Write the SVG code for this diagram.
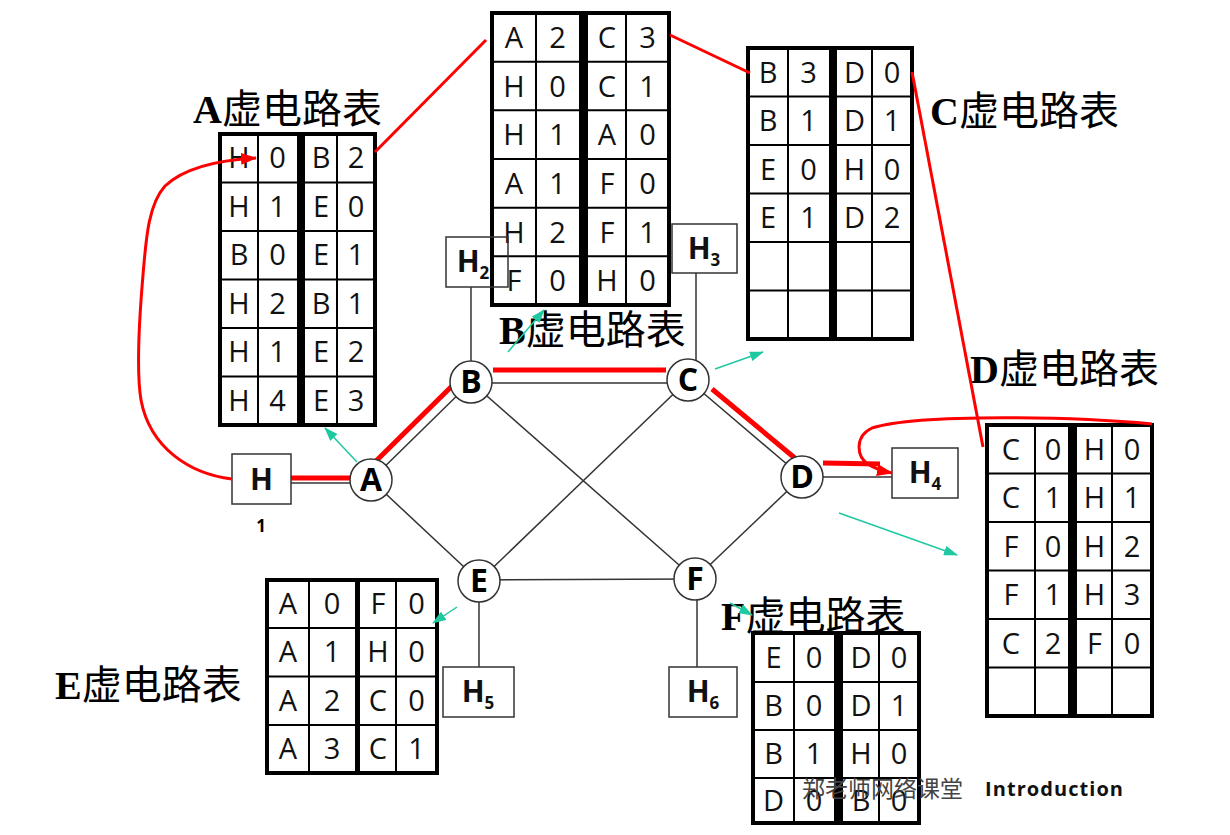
<svg xmlns="http://www.w3.org/2000/svg" width="1230" height="835" viewBox="0 0 1230 835">
<defs>
<marker id="ar" markerUnits="userSpaceOnUse" markerWidth="16" markerHeight="12" refX="15" refY="6" orient="auto"><path d="M0,0 L16,6 L0,12 Z" fill="#ff0000"/></marker>
<marker id="at" markerUnits="userSpaceOnUse" markerWidth="14" markerHeight="10" refX="13" refY="5" orient="auto"><path d="M0,0 L14,5 L0,10 Z" fill="#1ec8a0"/></marker>
<style>
.cell{font-family:"Open Sans",sans-serif;font-size:29px;fill:#111;text-anchor:middle}
.tb{fill:#fff;stroke:#000;stroke-width:4}
.ln{stroke:#000;stroke-width:2}
.bar{fill:#000}
.ttl{font-family:"Noto Sans CJK SC",sans-serif;font-size:40px;fill:#000}
.lat{font-family:"Liberation Serif",serif;font-weight:bold}
.g{stroke:#333;stroke-width:1.5;fill:none}
.red{stroke:#ff0000;stroke-width:5;fill:none}
.redt{stroke:#ff0000;stroke-width:3;fill:none}
.tea{stroke:#1ec8a0;stroke-width:1.5;fill:none}
.nd{fill:#fff;stroke:#333;stroke-width:1.5}
.nl{font-family:"Open Sans",sans-serif;font-weight:bold;font-size:32px;text-anchor:middle;fill:#000}
.hb{fill:#fff;stroke:#333;stroke-width:1.5}
.ht{font-family:"Open Sans",sans-serif;font-weight:bold;font-size:30px;text-anchor:middle;fill:#111}
.sub{font-size:17px}
</style>
</defs>
<rect width="1230" height="835" fill="#fff"/>

<g id="connectors">
<line class="g" x1="371" y1="480" x2="471" y2="382"/>
<line class="g" x1="471" y1="383" x2="688" y2="383"/>
<line class="g" x1="688" y1="380" x2="802" y2="477"/>
<line class="g" x1="371" y1="480" x2="479" y2="581"/>
<line class="g" x1="471" y1="382" x2="695" y2="579"/>
<line class="g" x1="688" y1="380" x2="479" y2="581"/>
<line class="g" x1="479" y1="580" x2="695" y2="579"/>
<line class="g" x1="802" y1="477" x2="695" y2="579"/>
<line class="g" x1="291" y1="483" x2="352" y2="483"/>
<line class="g" x1="823" y1="477" x2="892" y2="477"/>
<line class="g" x1="471" y1="287" x2="471" y2="362"/>
<line class="g" x1="696" y1="273" x2="696" y2="362"/>
<line class="g" x1="479" y1="602" x2="479" y2="667"/>
<line class="g" x1="697" y1="600" x2="697" y2="667"/>
<line class="red" x1="291" y1="478" x2="352" y2="478"/>
<line class="red" x1="376" y1="461" x2="452" y2="386"/>
<line class="red" x1="493" y1="370" x2="666" y2="370"/>
<line class="red" x1="712" y1="389" x2="796" y2="459"/>
<line class="red" x1="823" y1="463" x2="880" y2="464"/>
</g>

<g id="nodeA"><circle class="nd" cx="371" cy="480" r="21"/><text class="nl" x="371" y="491">A</text></g>
<g id="nodeB"><circle class="nd" cx="471" cy="382" r="21"/><text class="nl" x="471" y="393">B</text></g>
<g id="nodeC"><circle class="nd" cx="688" cy="380" r="21"/><text class="nl" x="688" y="391">C</text></g>
<g id="nodeD"><circle class="nd" cx="802" cy="477" r="21"/><text class="nl" x="802" y="488">D</text></g>
<g id="nodeE"><circle class="nd" cx="479" cy="581" r="21"/><text class="nl" x="479" y="592">E</text></g>
<g id="nodeF"><circle class="nd" cx="695" cy="579" r="21"/><text class="nl" x="695" y="590">F</text></g>

<g id="host1"><rect class="hb" x="232" y="454" width="59" height="50"/><text class="ht" x="261.5" y="490">H</text><text x="261" y="532" font-family="Open Sans,sans-serif" font-weight="bold" font-size="17" text-anchor="middle">1</text></g>
<g id="host3"><rect class="hb" x="672" y="224" width="65" height="49"/><text class="ht" x="704" y="259">H<tspan class="sub" dy="7">3</tspan></text></g>
<g id="host4"><rect class="hb" x="892" y="448" width="66" height="50"/><text class="ht" x="925" y="483">H<tspan class="sub" dy="7">4</tspan></text></g>
<g id="host5"><rect class="hb" x="443" y="667" width="71" height="50"/><text class="ht" x="478" y="702">H<tspan class="sub" dy="7">5</tspan></text></g>
<g id="host6"><rect class="hb" x="669" y="667" width="68" height="50"/><text class="ht" x="703" y="702">H<tspan class="sub" dy="7">6</tspan></text></g>

<g id="tableA">
<text class="ttl" x="193" y="123"><tspan class="lat">A</tspan>虚电路表</text>
<rect class="tb" x="220" y="134" width="155" height="291"/>
<path class="ln" d="M220,182.5H375M220,231H375M220,279.5H375M220,328H375M220,376.5H375M258,134V425M337,134V425"/>
<rect class="bar" x="297" y="134" width="8" height="291"/>
<g class="cell">
<text x="239" y="168">H</text><text x="277.5" y="168">0</text><text x="321" y="168">B</text><text x="356" y="168">2</text>
<text x="239" y="217">H</text><text x="277.5" y="217">1</text><text x="321" y="217">E</text><text x="356" y="217">0</text>
<text x="239" y="265">B</text><text x="277.5" y="265">0</text><text x="321" y="265">E</text><text x="356" y="265">1</text>
<text x="239" y="314">H</text><text x="277.5" y="314">2</text><text x="321" y="314">B</text><text x="356" y="314">1</text>
<text x="239" y="362">H</text><text x="277.5" y="362">1</text><text x="321" y="362">E</text><text x="356" y="362">2</text>
<text x="239" y="411">H</text><text x="277.5" y="411">4</text><text x="321" y="411">E</text><text x="356" y="411">3</text>
</g>
</g>

<g id="tableB">
<text class="ttl" x="499" y="344"><tspan class="lat">B</tspan>虚电路表</text>
<rect class="tb" x="492" y="13" width="177" height="292"/>
<path class="ln" d="M492,61.7H669M492,110.3H669M492,159H669M492,207.7H669M492,256.3H669M536,13V305M626,13V305"/>
<rect class="bar" x="579" y="13" width="9" height="292"/>
<g class="cell">
<text x="514" y="48">A</text><text x="557.5" y="48">2</text><text x="607" y="48">C</text><text x="647.5" y="48">3</text>
<text x="514" y="96.5">H</text><text x="557.5" y="96.5">0</text><text x="607" y="96.5">C</text><text x="647.5" y="96.5">1</text>
<text x="514" y="145">H</text><text x="557.5" y="145">1</text><text x="607" y="145">A</text><text x="647.5" y="145">0</text>
<text x="514" y="194">A</text><text x="557.5" y="194">1</text><text x="607" y="194">F</text><text x="647.5" y="194">0</text>
<text x="514" y="242.5">H</text><text x="557.5" y="242.5">2</text><text x="607" y="242.5">F</text><text x="647.5" y="242.5">1</text>
<text x="514" y="291">F</text><text x="557.5" y="291">0</text><text x="607" y="291">H</text><text x="647.5" y="291">0</text>
</g>
</g>

<g id="host2"><rect x="446" y="237" width="62" height="50" fill="none" stroke="#333" stroke-width="1.5"/><text class="ht" x="473" y="272">H<tspan class="sub" dy="7">2</tspan></text></g>

<g id="tableC">
<text class="ttl" x="930" y="125"><tspan class="lat">C</tspan>虚电路表</text>
<rect class="tb" x="748" y="48" width="164" height="291"/>
<path class="ln" d="M748,96.5H912M748,145H912M748,193.5H912M748,242H912M748,290.5H912M788,48V339M872,48V339"/>
<rect class="bar" x="829" y="48" width="8" height="291"/>
<g class="cell">
<text x="768" y="83">B</text><text x="808.5" y="83">3</text><text x="854.5" y="83">D</text><text x="892" y="83">0</text>
<text x="768" y="131">B</text><text x="808.5" y="131">1</text><text x="854.5" y="131">D</text><text x="892" y="131">1</text>
<text x="768" y="180">E</text><text x="808.5" y="180">0</text><text x="854.5" y="180">H</text><text x="892" y="180">0</text>
<text x="768" y="228">E</text><text x="808.5" y="228">1</text><text x="854.5" y="228">D</text><text x="892" y="228">2</text>
</g>
</g>

<g id="tableD">
<text class="ttl" x="970" y="383"><tspan class="lat">D</tspan>虚电路表</text>
<rect class="tb" x="987" y="425" width="165" height="291"/>
<path class="ln" d="M987,473.5H1152M987,522H1152M987,570.5H1152M987,619H1152M987,667.5H1152M1035,425V716M1112,425V716"/>
<rect class="bar" x="1068" y="425" width="9" height="291"/>
<g class="cell">
<text x="1011" y="460">C</text><text x="1053" y="460">0</text><text x="1094.5" y="460">H</text><text x="1132" y="460">0</text>
<text x="1011" y="508">C</text><text x="1053" y="508">1</text><text x="1094.5" y="508">H</text><text x="1132" y="508">1</text>
<text x="1011" y="557">F</text><text x="1053" y="557">0</text><text x="1094.5" y="557">H</text><text x="1132" y="557">2</text>
<text x="1011" y="605">F</text><text x="1053" y="605">1</text><text x="1094.5" y="605">H</text><text x="1132" y="605">3</text>
<text x="1011" y="654">C</text><text x="1053" y="654">2</text><text x="1094.5" y="654">F</text><text x="1132" y="654">0</text>
</g>
</g>

<g id="tableE">
<text class="ttl" x="55" y="699"><tspan class="lat">E</tspan>虚电路表</text>
<rect class="tb" x="267" y="580" width="170" height="193"/>
<path class="ln" d="M267,628H437M267,676.5H437M267,725H437M309,580V773M396,580V773"/>
<rect class="bar" x="355" y="580" width="5" height="193"/>
<g class="cell">
<text x="288" y="614">A</text><text x="332" y="614">0</text><text x="378" y="614">F</text><text x="416.5" y="614">0</text>
<text x="288" y="662">A</text><text x="332" y="662">1</text><text x="378" y="662">H</text><text x="416.5" y="662">0</text>
<text x="288" y="711">A</text><text x="332" y="711">2</text><text x="378" y="711">C</text><text x="416.5" y="711">0</text>
<text x="288" y="759">A</text><text x="332" y="759">3</text><text x="378" y="759">C</text><text x="416.5" y="759">1</text>
</g>
</g>

<g id="tableF">
<text class="ttl" x="721" y="630"><tspan class="lat">F</tspan>虚电路表</text>
<rect class="tb" x="753" y="633" width="166" height="190"/>
<path class="ln" d="M753,682H919M753,730H919M753,778H919M794,633V823M879,633V823"/>
<rect class="bar" x="834" y="633" width="9" height="190"/>
<g class="cell">
<text x="773.5" y="668">E</text><text x="814" y="668">0</text><text x="861" y="668">D</text><text x="899" y="668">0</text>
<text x="773.5" y="716">B</text><text x="814" y="716">0</text><text x="861" y="716">D</text><text x="899" y="716">1</text>
<text x="773.5" y="764">B</text><text x="814" y="764">1</text><text x="861" y="764">H</text><text x="899" y="764">0</text>
<text x="773.5" y="811">D</text><text x="814" y="811">0</text><text x="861" y="811">B</text><text x="899" y="811">0</text>
</g>
</g>

<g id="annotations">
<path class="redt" d="M232,479 C190,474 150,448 141,400 C136,370 140,310 143,275 C146,240 148,205 165,186 C185,167 220,160 256,158" marker-end="url(#ar)"/>
<line class="redt" x1="375" y1="152" x2="486" y2="40"/>
<line class="redt" x1="670" y1="35" x2="750" y2="73"/>
<line class="redt" x1="912" y1="72" x2="983" y2="447"/>
<path class="redt" d="M1152,424 C1080,417 920,413 872,428 C855,436 856,456 868,464 C875,469 882,471 892,473" marker-end="url(#ar)"/>
<line class="tea" x1="357" y1="462" x2="325" y2="428" marker-end="url(#at)"/>
<line class="tea" x1="508" y1="352" x2="544" y2="310" marker-end="url(#at)"/>
<line class="tea" x1="715" y1="369" x2="763" y2="352" marker-end="url(#at)"/>
<line class="tea" x1="839" y1="513" x2="957" y2="555" marker-end="url(#at)"/>
<line class="tea" x1="457" y1="607" x2="433" y2="623" marker-end="url(#at)"/>
<line class="tea" x1="730" y1="603" x2="752" y2="615" marker-end="url(#at)"/>
</g>

<g id="footer">
<text x="802" y="797" font-family="Noto Sans CJK SC,sans-serif" font-size="23" fill="#444" textLength="161">郑老师网络课堂</text>
<text x="985" y="796" font-family="Open Sans,sans-serif" font-weight="bold" font-size="20" fill="#111" textLength="138">Introduction</text>
</g>
</svg>
